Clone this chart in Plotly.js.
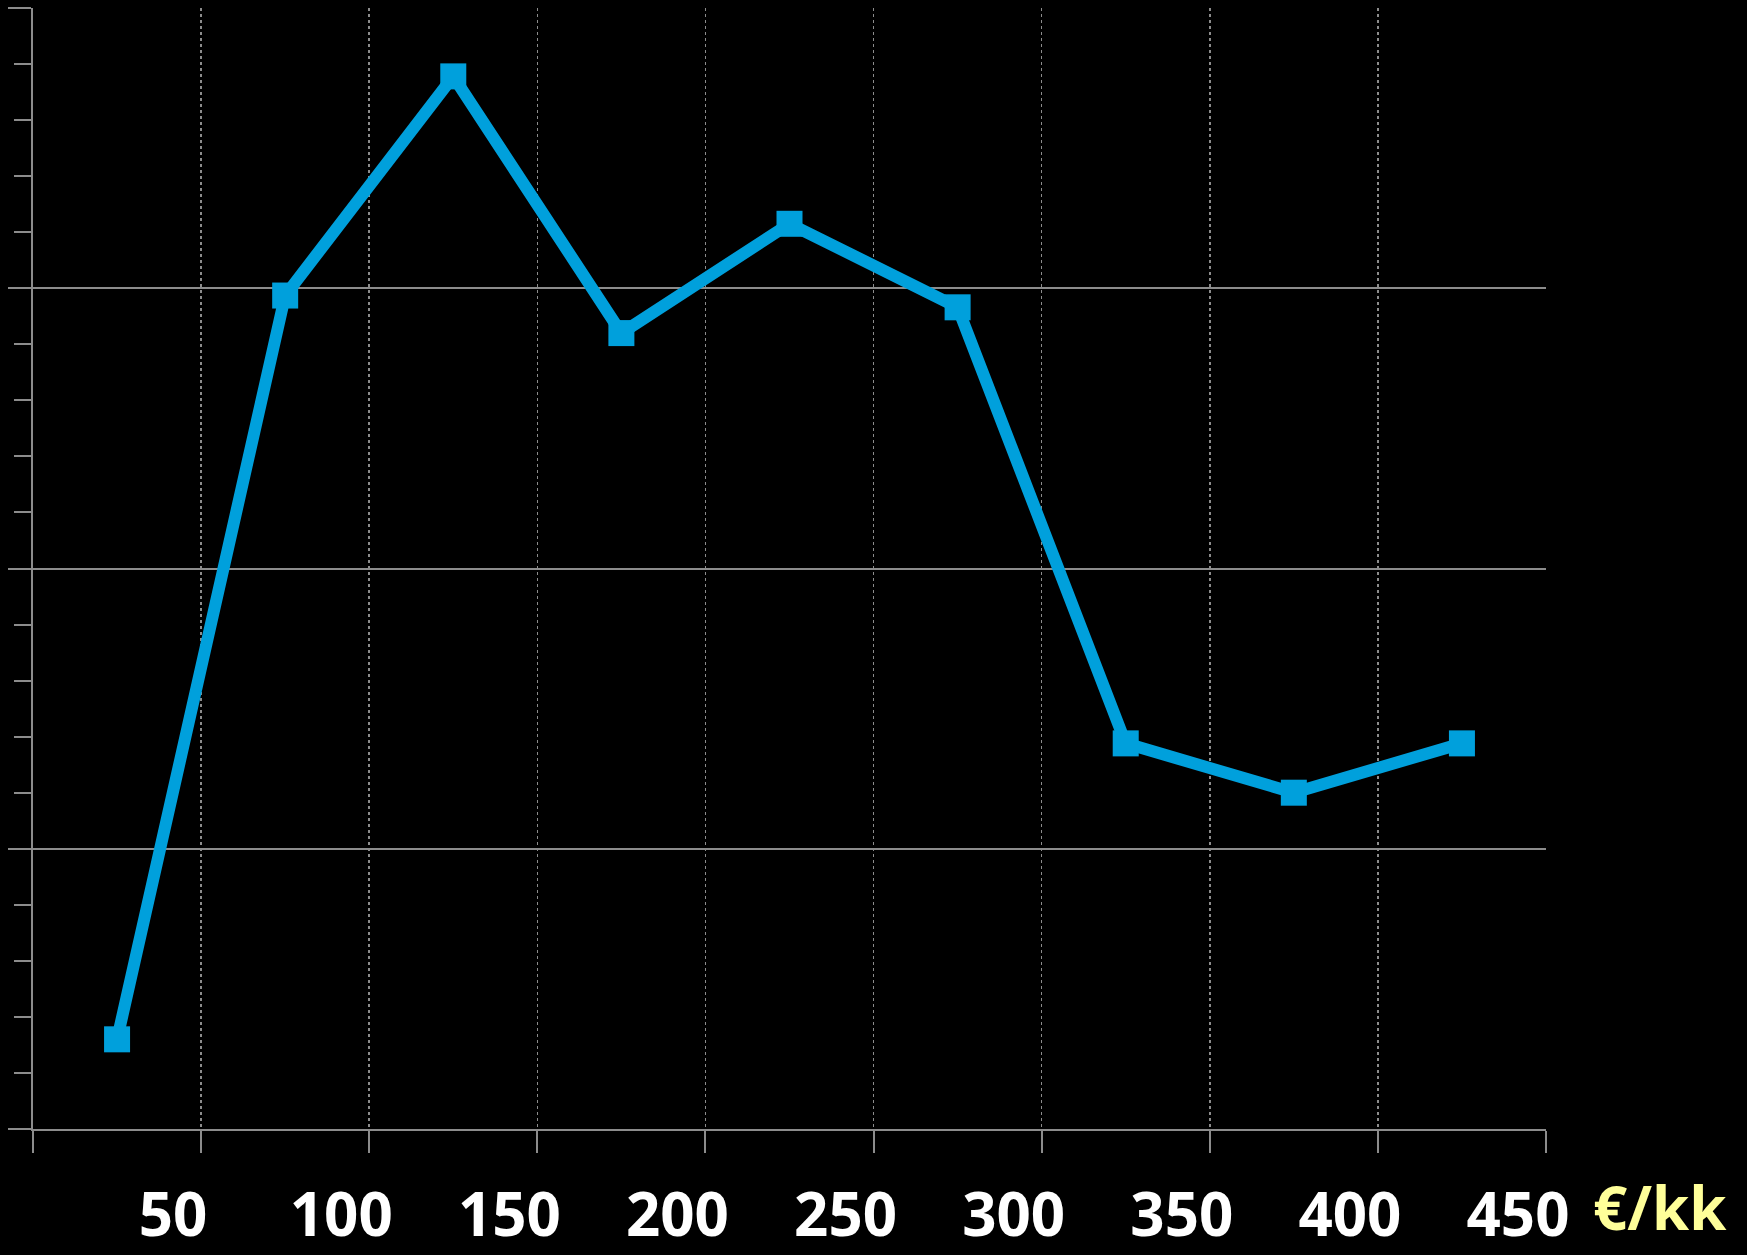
<!DOCTYPE html>
<html>
<head>
<meta charset="utf-8">
<script src="https://cdn.plot.ly/plotly-3.0.1.min.js"></script>
<style>
html,body{margin:0;padding:0;background:#000;}
#chart{width:1747px;height:1255px;}
</style>
</head>
<body>
<div id="chart"></div>
<script>
// Price bins (€/kk), bin centres and the plotted share values
const binCenters = [25, 75, 125, 175, 225, 275, 325, 375, 425];
const values = [1.6, 14.87, 18.78, 14.2, 16.15, 14.66, 6.88, 6.0, 6.88];
const tickValues = [0, 50, 100, 150, 200, 250, 300, 350, 400, 450];
const tickLabels = ["", "50", "100", "150", "200", "250", "300", "350", "400", "450"];
const unitLabel = "€/kk";

const trace = {
  x: binCenters,
  y: values,
  type: "scatter",
  mode: "lines+markers",
  line: {color: "#00a0dc", width: 12},
  marker: {symbol: "square", size: 26, color: "#00a0dc"},
  hoverinfo: "x+y"
};

const layout = {
  width: 1747,
  height: 1255,
  paper_bgcolor: "#000",
  plot_bgcolor: "#000",
  showlegend: false,
  margin: {l: 33, r: 201, t: 8, b: 126},
  xaxis: {
    range: [0, 450],
    tickmode: "array",
    tickvals: tickValues,
    ticktext: tickLabels,
    showgrid: true,
    gridcolor: "#8c8c8c",
    gridwidth: 1.5,
    griddash: "dot",
    showline: true,
    linecolor: "#8c8c8c",
    linewidth: 2,
    ticks: "outside",
    ticklen: 22,
    tickwidth: 2,
    tickcolor: "#8c8c8c",
    ticklabelshift: -28,
    ticklabelstandoff: 11,
    tickfont: {family: "Open Sans", size: 60, color: "#ffffff", weight: "bold"},
    zeroline: false,
    fixedrange: true
  },
  yaxis: {
    range: [0, 20],
    tickmode: "linear",
    tick0: 0,
    dtick: 5,
    showticklabels: false,
    showgrid: true,
    gridcolor: "#8c8c8c",
    gridwidth: 2,
    showline: true,
    linecolor: "#8c8c8c",
    linewidth: 2,
    ticks: "outside",
    ticklen: 23,
    tickwidth: 2,
    tickcolor: "#8c8c8c",
    minor: {dtick: 1, ticks: "outside", ticklen: 17, tickwidth: 2, tickcolor: "#8c8c8c", showgrid: false},
    zeroline: false,
    fixedrange: true
  },
  annotations: [{
    text: unitLabel,
    xref: "paper", yref: "paper",
    x: 1.03, y: 0,
    xanchor: "left", yanchor: "top",
    yshift: -35,
    showarrow: false,
    font: {family: "Open Sans", size: 60, color: "#ffff99", weight: "bold"}
  }]
};

Plotly.newPlot("chart", [trace], layout, {displayModeBar: false, staticPlot: true});
</script>
</body>
</html>
